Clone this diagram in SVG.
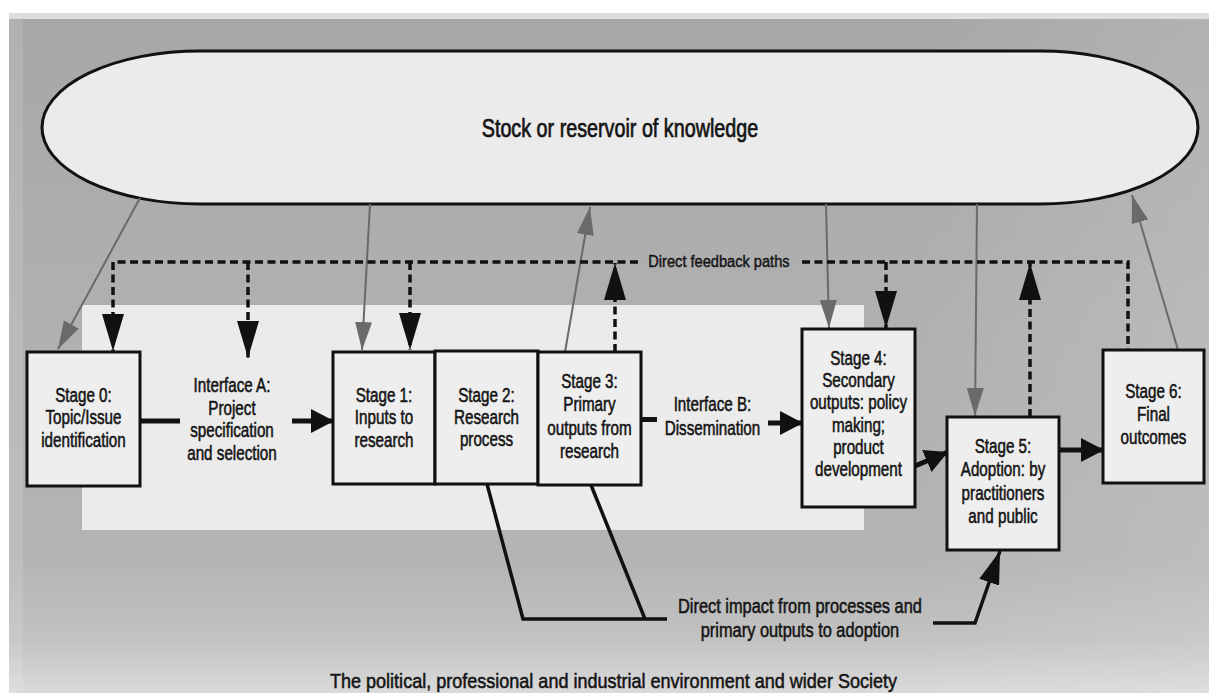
<svg xmlns="http://www.w3.org/2000/svg" width="1209" height="693" viewBox="0 0 1209 693">
<style>
.t{font-family:"Liberation Sans",Arial,sans-serif;font-size:19.5px;fill:#141414;stroke:#141414;stroke-width:0.55px;text-anchor:middle}
.box{fill:#eeeeee;stroke:#111;stroke-width:3}
.grey{fill:none;stroke:#6a6a6a;stroke-width:2;marker-end:url(#mkGrey)}
.dash{fill:none;stroke:#111;stroke-width:3.5;stroke-dasharray:8 4.5}
.flow{fill:none;stroke:#111;stroke-width:5}
.imp{fill:none;stroke:#111;stroke-width:3.5}
</style>
<defs>
<linearGradient id="gBg" x1="0" y1="0" x2="0" y2="1">
<stop offset="0" stop-color="#a7a7a7"/>
<stop offset="0.45" stop-color="#b0b0b0"/>
<stop offset="0.8" stop-color="#b4b4b4"/>
<stop offset="0.92" stop-color="#c2c2c2"/>
<stop offset="1" stop-color="#dadada"/>
</linearGradient>
<linearGradient id="gRight" x1="0" y1="0" x2="1" y2="0">
<stop offset="0" stop-color="#ffffff" stop-opacity="0"/>
<stop offset="0.75" stop-color="#ffffff" stop-opacity="0"/>
<stop offset="1" stop-color="#ffffff" stop-opacity="0.12"/>
</linearGradient>
<marker id="mkGrey" markerUnits="userSpaceOnUse" markerWidth="28" markerHeight="17" refX="28" refY="8.5" orient="auto"><path d="M0,0 L28,8.5 L0,17 Z" fill="#6a6a6a"/></marker>
<marker id="mkFb" markerUnits="userSpaceOnUse" markerWidth="37" markerHeight="22" refX="37" refY="11" orient="auto"><path d="M0,0 L37,11 L0,22 Z" fill="#111"/></marker>
<marker id="mkFlow" markerUnits="userSpaceOnUse" markerWidth="23" markerHeight="24" refX="23" refY="12" orient="auto"><path d="M0,0 L23,12 L0,24 Z" fill="#111"/></marker>
<marker id="mkImp" markerUnits="userSpaceOnUse" markerWidth="33" markerHeight="21" refX="33" refY="10.5" orient="auto"><path d="M0,0 L33,10.5 L0,21 Z" fill="#111"/></marker>
</defs>

<g id="background">
<rect x="0" y="0" width="1209" height="693" fill="#ffffff"/>
<rect x="9" y="13" width="1200" height="6" fill="#dedede"/>
<rect x="9" y="19" width="1200" height="674" fill="url(#gBg)"/>
<rect x="9" y="19" width="1200" height="674" fill="url(#gRight)"/>
<rect x="9" y="19" width="14" height="674" fill="#ffffff" opacity="0.12"/>
<text class="t" x="613.5" y="688" textLength="567" lengthAdjust="spacingAndGlyphs" style="font-size:21px">The political, professional and industrial environment and wider Society</text>
</g>

<g id="inner-area">
<rect x="82" y="305" width="782" height="225" fill="#ebebeb"/>
</g>

<g id="reservoir">
<path d="M200,51 H1040 A158,76.5 0 0 1 1040,204 H200 A158,76.5 0 0 1 200,51 Z" fill="#ebebeb" stroke="#111" stroke-width="3"/>
<g transform="scale(0.79 1)"><text class="t" x="784.8" y="137" style="font-size:25px;stroke-width:0.7px">Stock or reservoir of knowledge</text></g>
</g>

<g id="connectors">
<path class="grey" d="M140,198 L58,349"/>
<path class="grey" d="M370,204 L362,350"/>
<path class="grey" d="M565,352 L590,207"/>
<path class="grey" d="M826,204 L829,328"/>
<path class="grey" d="M977,204 L975,416"/>
<path class="grey" d="M1178,350 L1132,195"/>
<path class="dash" d="M638,262 H113 V351" marker-end="url(#mkFb)"/>
<path class="dash" d="M248,262 V358" marker-end="url(#mkFb)"/>
<path class="dash" d="M410,262 V350" marker-end="url(#mkFb)"/>
<path class="dash" d="M615,352 V263" marker-end="url(#mkFb)"/>
<path class="dash" d="M802,262 H1128 V350"/>
<path class="dash" d="M886,262 V328" marker-end="url(#mkFb)"/>
<path class="dash" d="M1030,417 V263" marker-end="url(#mkFb)"/>
<g transform="scale(0.86 1)"><text class="t" x="836" y="267" style="font-size:17px;stroke-width:0.45px">Direct feedback paths</text></g>
<path class="flow" d="M140,421 H180"/>
<path class="flow" d="M292,421 H334" marker-end="url(#mkFlow)"/>
<path class="flow" d="M641,419.5 H657"/>
<path class="flow" d="M768,423 H803" marker-end="url(#mkFlow)"/>
<path class="flow" d="M915,466 L948,452" marker-end="url(#mkFlow)"/>
<path class="flow" d="M1059,450 H1104" marker-end="url(#mkFlow)"/>
<path class="imp" d="M487,484 L523,619 H667"/>
<path class="imp" d="M591,485 L645,619"/>
<path class="imp" d="M933,623 H975 L1000,551" marker-end="url(#mkImp)"/>
<g transform="scale(0.78 1)"><text class="t" x="1025.6" y="613" style="font-size:21px"><tspan x="1025.6">Direct impact from processes and</tspan><tspan x="1025.6" y="637">primary outputs to adoption</tspan></text></g>
</g>

<g id="stage0">
<rect class="box" x="27" y="352" width="113" height="134"/>
<g transform="scale(0.78 1)"><text class="t" y="402"><tspan x="107.05">Stage 0:</tspan><tspan x="107.05" y="424.5">Topic/Issue</tspan><tspan x="107.05" y="447">identification</tspan></text></g>
</g>

<g id="interfaceA">
<g transform="scale(0.78 1)"><text class="t" y="392"><tspan x="297.44">Interface A:</tspan><tspan x="297.44" y="415">Project</tspan><tspan x="297.44" y="437.5">specification</tspan><tspan x="297.44" y="460">and selection</tspan></text></g>
</g>

<g id="stage1">
<rect class="box" x="333" y="352" width="102" height="132"/>
<g transform="scale(0.78 1)"><text class="t" y="402"><tspan x="492.31">Stage 1:</tspan><tspan x="492.31" y="424.5">Inputs to</tspan><tspan x="492.31" y="447">research</tspan></text></g>
</g>

<g id="stage2">
<rect class="box" x="435" y="351" width="103" height="133"/>
<g transform="scale(0.78 1)"><text class="t" y="402"><tspan x="623.72">Stage 2:</tspan><tspan x="623.72" y="424.5">Research</tspan><tspan x="623.72" y="446">process</tspan></text></g>
</g>

<g id="stage3">
<rect class="box" x="538" y="352" width="103" height="133"/>
<g transform="scale(0.78 1)"><text class="t" y="388"><tspan x="755.77">Stage 3:</tspan><tspan x="755.77" y="411.5">Primary</tspan><tspan x="755.77" y="435">outputs from</tspan><tspan x="755.77" y="458.5">research</tspan></text></g>
</g>

<g id="interfaceB">
<g transform="scale(0.78 1)"><text class="t" y="411.5"><tspan x="913.46">Interface B:</tspan><tspan x="913.46" y="435">Dissemination</tspan></text></g>
</g>

<g id="stage4">
<rect class="box" x="802" y="329" width="113" height="178"/>
<g transform="scale(0.78 1)"><text class="t" y="365"><tspan x="1100.64">Stage 4:</tspan><tspan x="1100.64" y="387.5">Secondary</tspan><tspan x="1100.64" y="409.5">outputs: policy</tspan><tspan x="1100.64" y="432">making;</tspan><tspan x="1100.64" y="454">product</tspan><tspan x="1100.64" y="476.5">development</tspan></text></g>
</g>

<g id="stage5">
<rect class="box" x="947" y="417" width="112" height="133"/>
<g transform="scale(0.78 1)"><text class="t" y="453"><tspan x="1285.9">Stage 5:</tspan><tspan x="1285.9" y="476.5">Adoption: by</tspan><tspan x="1285.9" y="500">practitioners</tspan><tspan x="1285.9" y="523.5">and public</tspan></text></g>
</g>

<g id="stage6">
<rect class="box" x="1103" y="350" width="101" height="133"/>
<g transform="scale(0.78 1)"><text class="t" y="398"><tspan x="1478.85">Stage 6:</tspan><tspan x="1478.85" y="421">Final</tspan><tspan x="1478.85" y="444">outcomes</tspan></text></g>
</g>
</svg>
